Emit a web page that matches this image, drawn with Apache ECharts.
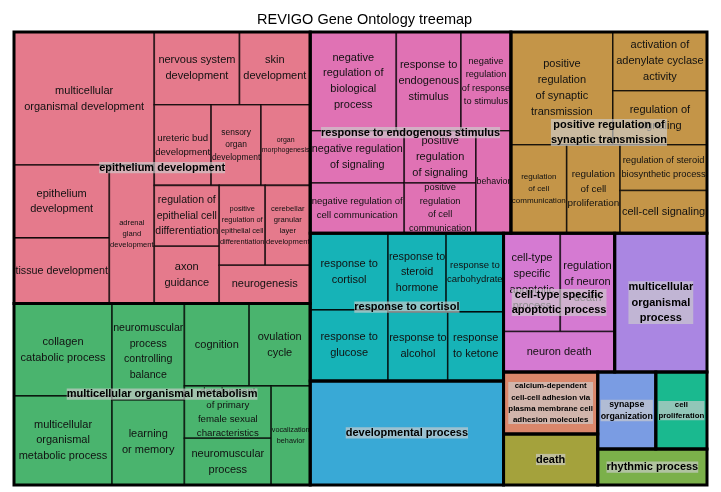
<!DOCTYPE html>
<html><head><meta charset="utf-8">
<script src="https://cdn.jsdelivr.net/npm/echarts@6/dist/echarts.min.js"></script>
<style>html,body{margin:0;padding:0;background:#fff}#c{width:721px;height:492px}</style>
</head><body><div id="c"></div>
<script>
// ---------- DATA ----------
const groupNames = [
  'epithelium development',
  'multicellular organismal metabolism',
  'response to endogenous stimulus',
  'positive regulation of\nsynaptic transmission',
  'response to cortisol',
  'developmental process',
  'cell-type specific\napoptotic process',
  'multicellular\norganismal\nprocess',
  'calcium-dependent\ncell-cell adhesion via\nplasma membrane cell\nadhesion molecules',
  'death',
  'synapse\norganization',
  'cell\nproliferation',
  'rhythmic process'
];
const termNames = [
  'multicellular\norganismal development', 'epithelium\ndevelopment', 'tissue development',
  'adrenal\ngland\ndevelopment', 'nervous system\ndevelopment', 'skin\ndevelopment',
  'ureteric bud\ndevelopment', 'sensory\norgan\ndevelopment', 'organ\nmorphogenesis',
  'regulation of\nepithelial cell\ndifferentiation', 'axon\nguidance',
  'positive\nregulation of\nepithelial cell\ndifferentiation', 'cerebellar\ngranular\nlayer\ndevelopment',
  'neurogenesis',
  'collagen\ncatabolic process', 'multicellular\norganismal\nmetabolic process',
  'neuromuscular\nprocess\ncontrolling\nbalance', 'learning\nor memory', 'cognition',
  'ovulation\ncycle', 'development\nof primary\nfemale sexual\ncharacteristics',
  'neuromuscular\nprocess', 'vocalization\nbehavior',
  'negative\nregulation of\nbiological\nprocess', 'response to\nendogenous\nstimulus',
  'negative\nregulation\nof response\nto stimulus', 'negative regulation\nof signaling',
  'negative regulation of\ncell communication', 'positive\nregulation\nof signaling',
  'positive\nregulation\nof cell\ncommunication', 'behavior',
  'positive\nregulation\nof synaptic\ntransmission', 'activation of\nadenylate cyclase\nactivity',
  'regulation of\nsignaling', 'regulation\nof cell\ncommunication', 'regulation\nof cell\nproliferation',
  'regulation of steroid\nbiosynthetic process', 'cell-cell signaling',
  'response to\ncortisol', 'response to\nglucose', 'response to\nsteroid\nhormone',
  'response to\ncarbohydrate', 'response to\nalcohol', 'response\nto ketone',
  'developmental process',
  'cell-type\nspecific\napoptotic\nprocess', 'regulation\nof neuron\ndeath', 'neuron death',
  'multicellular organismal process',
  'calcium-dependent cell-cell adhesion via plasma membrane cell adhesion molecules',
  'death', 'synapse organization', 'cell proliferation', 'rhythmic process'
];
const termGroup = [
  0,0,0,0,0,0,0,0,0,0,0,0,0,0,
  1,1,1,1,1,1,1,1,1,
  2,2,2,2,2,2,2,2,
  3,3,3,3,3,3,3,
  4,4,4,4,4,4,
  5,
  6,6,6,
  7, 8, 9, 10, 11, 12
];
const termValues = [
  186.2, 69.3, 62.3, 62.0, 61.8, 51.25, 45.77, 40.15, 39.6, 39.4, 37.05, 36.66, 35.86, 34.58,
  90.45, 87.22, 69.63, 61.46, 53.25, 50.2, 45.34, 40.49, 38.61,
  84.88, 63.76, 49.2, 49.0, 47.0, 37.29, 35.9, 35.7,
  114.61, 55.18, 50.76, 49.18, 47.06, 39.62, 37.02,
  59.6, 55.17, 45.65, 45.1, 41.12, 38.43,
  200.72,
  55.74, 53.38, 44.84,
  127.88, 58.28, 47.94, 44.66, 39.4, 39.1
];
// ---------- STYLE ----------
const groupColors = ['#E57A8C','#4AB46E','#E072B4','#C49548','#16B3B7','#39A9D6','#D57AD2',
  '#AA86E2','#DA876B','#A4A23C','#7A9CE3','#1AB98F','#7BB04A'];
const FONT = '"Liberation Sans", Arial, Helvetica, sans-serif';

// ---------- pivot-by-size layout ----------
function pivot(items, x, y, w, h, out) {
  const n = items.length;
  if (!n) return;
  if (n === 1) { out.push({it: items[0], x, y, w, h}); return; }
  const tot = items.reduce((s, d) => s + d.v, 0);
  if (n === 2) {
    const r = items[0].v / tot;
    if (w >= h) {
      out.push({it: items[0], x, y, w: w * r, h});
      out.push({it: items[1], x: x + w * r, y, w: w * (1 - r), h});
    } else {
      out.push({it: items[0], x, y, w, h: h * r});
      out.push({it: items[1], x, y: y + h * r, w, h: h * (1 - r)});
    }
    return;
  }
  const P = items[0], rest = items.slice(1);
  let bestK = 0, bestR = Infinity, s = P.v;
  for (let k = 0; k <= rest.length; k++) {
    if (k > 0) s += rest[k - 1].v;
    let a, b;
    if (w >= h) { a = w * s / tot; b = h * P.v / s; }
    else { a = w * P.v / s; b = h * s / tot; }
    const r = Math.max(a / b, b / a);
    if (r < bestR) { bestR = r; bestK = k; }
  }
  const L2 = rest.slice(0, bestK), L3 = rest.slice(bestK);
  const s2 = P.v + L2.reduce((q, d) => q + d.v, 0);
  if (w >= h) {
    const cw = w * s2 / tot, ph = h * P.v / s2;
    out.push({it: P, x, y, w: cw, h: ph});
    pivot(L2, x, y + ph, cw, h - ph, out);
    pivot(L3, x + cw, y, w - cw, h, out);
  } else {
    const rh = h * s2 / tot, pw = w * P.v / s2;
    out.push({it: P, x, y, w: pw, h: rh});
    pivot(L2, x + pw, y, w - pw, rh, out);
    pivot(L3, x, y + rh, w, h - rh, out);
  }
}
let cache = null;
function getLayout(W, H) {
  const key = W + 'x' + H;
  if (cache && cache.key === key) return cache;
  const groups = groupNames.map((g, gi) => ({gi, v: 0, terms: []}));
  termValues.forEach((v, i) => { groups[termGroup[i]].v += v; groups[termGroup[i]].terms.push({ti: i, v}); });
  const gs = groups.slice().sort((a, b) => b.v - a.v);
  const gOut = [];
  pivot(gs, 0, 0, W, H, gOut);
  const gRect = [], tRect = [];
  gOut.forEach(o => {
    gRect[o.it.gi] = {x: o.x / W, y: o.y / H, w: o.w / W, h: o.h / H};
    const ts = o.it.terms.slice().sort((a, b) => b.v - a.v);
    const tOut = [];
    pivot(ts, o.x, o.y, o.w, o.h, tOut);
    tOut.forEach(t => { tRect[t.it.ti] = {x: t.x / W, y: t.y / H, w: t.w / W, h: t.h / H}; });
  });
  cache = {key, gRect, tRect};
  return cache;
}
const mctx = document.createElement('canvas').getContext('2d');
function maxLineEm(text, bold) {
  mctx.font = (bold ? 'bold ' : '') + '100px ' + FONT;
  let m = 0;
  text.split('\n').forEach(l => { m = Math.max(m, mctx.measureText(l).width / 100); });
  return m;
}
function fitFont(text, w, h, bold, frac) {
  const n = text.split('\n').length;
  return Math.min(11, w * frac / maxLineEm(text, bold), h / (n * 1.35));
}
function pix(api, r) {
  const p0 = api.coord([r.x, r.y]), p1 = api.coord([r.x + r.w, r.y + r.h]);
  return {x: p0[0], y: p0[1], w: p1[0] - p0[0], h: p1[1] - p0[1]};
}
const groupSize = termGroup.reduce((a, g) => { a[g] = (a[g] || 0) + 1; return a; }, []);

function renderLeaf(params, api) {
  const i = api.value(0);
  const cs = params.coordSys;
  const L = getLayout(cs.width, cs.height);
  const p = pix(api, L.tRect[i]);
  const g = termGroup[i];
  const children = [{
    type: 'rect', shape: {x: p.x, y: p.y, width: p.w, height: p.h},
    style: {fill: groupColors[g], stroke: 'rgba(0,0,0,0.72)', lineWidth: 1.6}
  }];
  if (groupSize[g] > 1) {
    const fs = fitFont(termNames[i], p.w, p.h, false, 0.97);
    children.push({
      type: 'text', x: p.x + p.w / 2, y: p.y + p.h / 2,
      style: {text: termNames[i], fontFamily: FONT, fontSize: fs, fill: '#111',
        align: 'center', verticalAlign: 'middle', lineHeight: fs * 1.45}
    });
  }
  return {type: 'group', children};
}
function renderGroupBorder(params, api) {
  const gi = api.value(0);
  const cs = params.coordSys;
  const L = getLayout(cs.width, cs.height);
  const p = pix(api, L.gRect[gi]);
  return {type: 'rect', shape: {x: p.x, y: p.y, width: p.w, height: p.h},
    style: {fill: 'none', stroke: '#000', lineWidth: 3}};
}
function renderGroupLabel(params, api) {
  const gi = api.value(0);
  const cs = params.coordSys;
  const L = getLayout(cs.width, cs.height);
  const p = pix(api, L.gRect[gi]);
  const txt = groupNames[gi];
  const n = txt.split('\n').length;
  const fs = fitFont(txt, p.w, p.h, true, 0.9);
  const bw = maxLineEm(txt, true) * fs;
  const bh = (n - 1) * fs * 1.43 + fs * 1.02;
  const cx = p.x + p.w / 2, cy = p.y + p.h / 2;
  return {type: 'group', children: [
    {type: 'rect', shape: {x: cx - bw / 2, y: cy - bh / 2, width: bw, height: bh},
      style: {fill: 'rgba(204,204,204,0.67)'}},
    {type: 'text', x: cx, y: cy,
      style: {text: txt, fontFamily: FONT, fontSize: fs, fontWeight: 'bold', fill: '#000',
        align: 'center', verticalAlign: 'middle', lineHeight: fs * 1.43}}
  ]};
}

const chart = echarts.init(document.getElementById('c'), null, {renderer: 'canvas'});
chart.setOption({
  animation: false,
  backgroundColor: '#fff',
  title: {text: 'REVIGO Gene Ontology treemap', left: 257, top: 12, padding: 0,
    textStyle: {fontFamily: FONT, fontSize: 14.5, fontWeight: 'normal', color: '#000'}},
  grid: {left: 14, top: 32, width: 693, height: 453},
  xAxis: {type: 'value', min: 0, max: 1, show: false},
  yAxis: {type: 'value', min: 0, max: 1, inverse: true, show: false},
  series: [
    {type: 'custom', coordinateSystem: 'cartesian2d', silent: true, clip: false,
      renderItem: renderLeaf, data: termValues.map((v, i) => [i, v, termGroup[i]])},
    {type: 'custom', coordinateSystem: 'cartesian2d', silent: true, clip: false,
      renderItem: renderGroupBorder, data: groupNames.map((g, i) => [i, 0])},
    {type: 'custom', coordinateSystem: 'cartesian2d', silent: true, clip: false,
      renderItem: renderGroupLabel, data: groupNames.map((g, i) => [i, 0])}
  ]
});
</script></body></html>
